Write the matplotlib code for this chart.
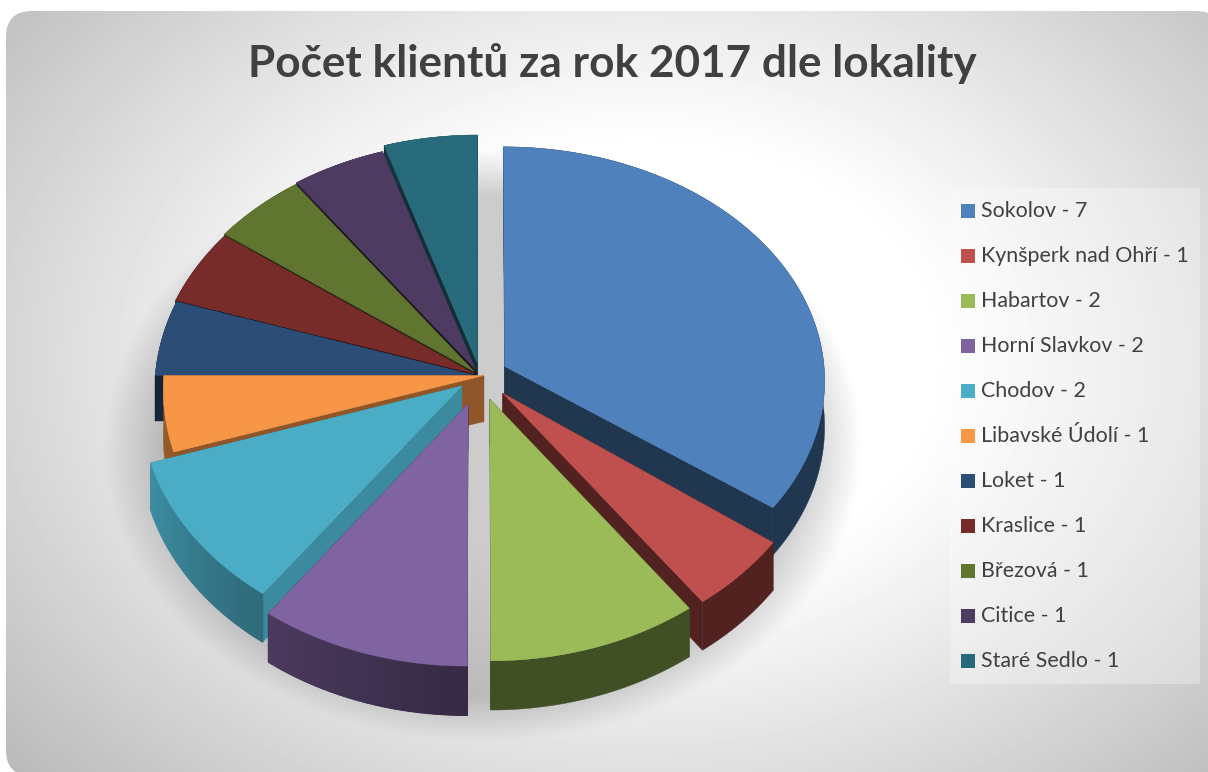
import numpy as np
import matplotlib
matplotlib.use("Agg")
import matplotlib.pyplot as plt
from matplotlib.patches import Polygon, FancyBboxPatch, Rectangle

title = "Počet klientů za rok 2017 dle lokality"
locations = ["Sokolov", "Kynšperk nad Ohří", "Habartov", "Horní Slavkov", "Chodov",
             "Libavské Údolí", "Loket", "Kraslice", "Březová", "Citice", "Staré Sedlo"]
clients = [7, 1, 2, 2, 2, 1, 1, 1, 1, 1, 1]

colors = ["#4F81BD", "#C0504D", "#9BBB59", "#8064A2", "#4BACC6", "#F79646",
          "#2C4D75", "#772C2A", "#5F7530", "#4D3B62", "#276A7C"]
explode = [0.087, 0.10, 0.10, 0.12, 0.07, -0.012, 0.015, 0.02, 0.025, 0.03, 0.055]
squash = [0.96, 1, 1, 1, 1, 1, 1, 1, 1, 1, 1]
# stin boku: zacatek a konec obvodu, pak radialni steny
rim_shade = [(0.42, 0.42), (0.42, 0.42), (0.42, 0.42), (0.42, 0.58), (0.62, 0.82),
             (0.60, 0.60), (0.45, 0.45), (0.5, 0.5), (0.5, 0.5), (0.5, 0.5), (0.5, 0.5)]
wall_shade = [0.42, 0.42, 0.42, 0.42, 0.80, 0.58, 0.5, 0.35, 0.35, 0.35, 0.45]

CX, CY = 480, 376
RX, RY = 320, 243
PERSP = 0.06
DEPTH = 46


def project(u, v, down=0.0):
    w = 1 - PERSP * v
    return CX + RX * u / w, CY + RY * v / w + down / w


def shade(col, f):
    return tuple(np.array(matplotlib.colors.to_rgb(col)) * f)


def draw_slice(ax, i, a0, a1):
    mid = (a0 + a1) / 2
    ou, ov = explode[i] * np.sin(mid), -explode[i] * np.cos(mid)
    th = np.linspace(a0, a1, max(int(np.degrees(a1 - a0) / 1.5), 4))
    u = ou + np.sin(th)
    v = ov - squash[i] * np.cos(th)

    # radialni steny
    for ru, rv in [(u[0], v[0]), (u[-1], v[-1])]:
        pts = [project(ou, ov), project(ru, rv), project(ru, rv, DEPTH), project(ou, ov, DEPTH)]
        c = shade(colors[i], wall_shade[i])
        ax.add_patch(Polygon(pts, closed=True, fc=c, ec=c, lw=0.3, zorder=3))

    # obvod s prechodem - nejdriv cely pas, at nejsou videt spary
    s0, s1 = rim_shade[i]
    band = [project(a, b) for a, b in zip(u, v)] + [project(a, b, DEPTH) for a, b in zip(u[::-1], v[::-1])]
    c = shade(colors[i], (s0 + s1) / 2)
    ax.add_patch(Polygon(band, closed=True, fc=c, ec=c, lw=0.3, zorder=3))
    if s0 != s1:
        for k in range(len(th) - 1):
            t = k / (len(th) - 2)
            c = shade(colors[i], s0 + (s1 - s0) * t)
            pts = [project(u[k], v[k]), project(u[k + 1], v[k + 1]),
                   project(u[k + 1], v[k + 1], DEPTH), project(u[k], v[k], DEPTH)]
            ax.add_patch(Polygon(pts, closed=True, fc=c, ec=c, lw=0.8, zorder=3))

    top = [project(ou, ov)] + [project(a, b) for a, b in zip(u, v)]
    ax.add_patch(Polygon(top, closed=True, fc=colors[i], ec=colors[i], lw=0.3, zorder=3))


fig = plt.figure(figsize=(12.08, 7.72), dpi=100)
ax = fig.add_axes([0, 0, 1, 1])
ax.set_xlim(0, 1208)
ax.set_ylim(772, 0)
ax.axis("off")

# pozadi - radialni prechod a mekky stin
yy, xx = np.mgrid[0:772, 0:1208]
r = np.sqrt(((xx - 640) / 760) ** 2 + ((yy - 360) / 560) ** 2)
bg = 1 - 0.27 * np.clip((r - 0.38) / 0.72, 0, 1) ** 1.1
d = np.sqrt(((xx - 483) / 365) ** 2 + ((yy - 445) / 285) ** 2)
bg = bg * (1 - 0.2 * np.clip((1.04 - d) / 0.16, 0, 1))
panel = FancyBboxPatch((6, 11), 1216, 765, boxstyle="round,pad=0,rounding_size=26",
                       fc="none", ec="none", transform=ax.transData)
ax.add_patch(panel)
im = ax.imshow(bg, cmap="gray", vmin=0, vmax=1, extent=(0, 1208, 772, 0), zorder=1)
im.set_clip_path(panel)
ax.set_xlim(0, 1208)
ax.set_ylim(772, 0)

total = sum(clients)
edges = np.cumsum([0] + clients) / total * 2 * np.pi
order = sorted(range(len(clients)), key=lambda i: -np.cos((edges[i] + edges[i + 1]) / 2))
for i in order:
    draw_slice(ax, i, edges[i], edges[i + 1])

ax.text(612, 63, title, fontsize=31.8, fontweight="bold", family="Lato", color="#404040",
        ha="center", va="center", zorder=5)

# legenda
ax.add_patch(Rectangle((950, 188), 250, 496, fc="white", alpha=0.3, ec="none", zorder=4))
for i, (loc, n) in enumerate(zip(locations, clients)):
    y = 211 + i * 45
    ax.add_patch(Rectangle((961, y - 7), 14, 14, fc=colors[i], ec="none", zorder=5))
    ax.text(981, y, f"{loc} - {n}", fontsize=15.4, family="Lato", color="#404040",
            va="center", ha="left", zorder=5)

fig.savefig("out.png", dpi=100)
